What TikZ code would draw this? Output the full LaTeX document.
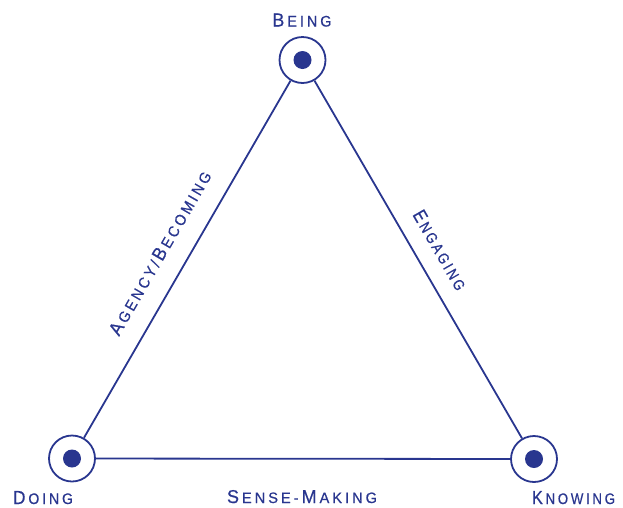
\documentclass[tikz,border=0pt]{standalone}
\usepackage{fontspec}
\usepackage{graphicx}
\newfontfamily\labfont[FakeBold=0.6]{Liberation Sans}
\definecolor{navy}{RGB}{41,54,143}
\newdimen\gap \gap=3pt
\def\spc#1{\ifx\relax#1\else#1\kern\gap\expandafter\spc\fi}
\newcommand\bigc[1]{\fontsize{18}{18}\selectfont #1\kern\gap}
\newcommand\smc[1]{\fontsize{14.6}{15}\selectfont\spc #1\relax}
\newcommand\lbl[2]{\resizebox{#1}{13pt}{\labfont #2\unkern}}
\tikzset{
  hub/.style={circle, draw=navy, line width=1.8pt, minimum size=46pt, inner sep=0pt},
  dot/.style={circle, fill=navy, minimum size=18pt, inner sep=0pt},
  edge/.style={draw=navy, line width=1.8pt},
  lab/.style={text=navy, inner sep=0pt, anchor=base},
  slab/.style={text=navy, inner sep=0pt, anchor=center}
}
\begin{document}
\begin{tikzpicture}[x=1pt,y=-1pt]
\useasboundingbox (0,0) rectangle (623,507);
\node[hub] (B) at (302.5,60) {};
\node[hub] (D) at (72,458.5) {};
\node[hub] (K) at (534,459) {};
\node[dot] (Bd) at (B) {};
\node[dot] (Dd) at (D) {};
\node[dot] (Kd) at (K) {};
\draw[edge] (D) -- (B);
\draw[edge] (B) -- (K);
\draw[edge] (D) -- (K);
\node[lab] (lB) at (302,26.5) {\lbl{59pt}{\bigc{B}\smc{EING}}};
\node[lab] (lD) at (43,504) {\lbl{60pt}{\bigc{D}\smc{OING}}};
\node[lab] (lK) at (573.5,504) {\lbl{83pt}{\bigc{K}\smc{NOWING}}};
\node[lab] (lS) at (302,503) {\lbl{150pt}{\bigc{S}\smc{ENSE-}\bigc{M}\smc{AKING}}};
\node[slab, rotate=60] (lA) at (160,253) {\lbl{186pt}{\bigc{A}\smc{GENCY/}\bigc{B}\smc{ECOMING}}};
\node[slab, rotate=-60] (lE) at (440,250) {\lbl{89pt}{\bigc{E}\smc{NGAGING}}};
\end{tikzpicture}
\end{document}
